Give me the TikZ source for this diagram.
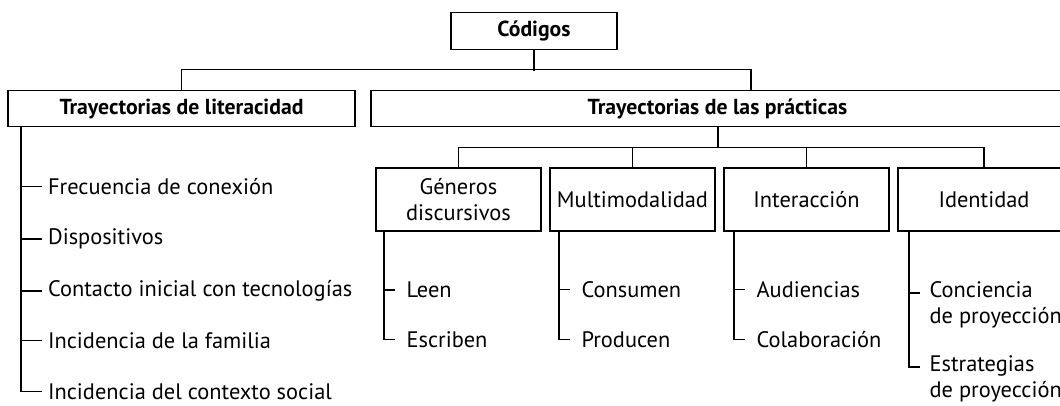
\documentclass[tikz,border=0pt]{standalone}
\usepackage{fontspec}
\setmainfont{PT Sans}
\begin{document}
\begin{tikzpicture}[x=0.75pt,y=-0.75pt,line width=0.9pt,
  every node/.style={font=\fontsize{16.8}{19.5}\selectfont},
  box/.style={draw,inner sep=0pt,minimum height=47.25pt,minimum width=123.75pt,align=center},
  topbox/.style={draw,inner sep=0pt,minimum height=27.5pt,font=\fontsize{16.3}{19.5}\selectfont\bfseries},
  lab/.style={anchor=base west,inner sep=0pt,yshift=-0.35em},
  mlab/.style={anchor=base west,inner sep=0pt,yshift=-0.35em,align=left}]
\useasboundingbox (0,0) rectangle (1060,405);
\clip (0,0) rectangle (1060,405);
% top level
\node[topbox,minimum width=124.5pt] (cod) at (534,31) {Códigos};
\node[topbox,minimum width=260.25pt] (lit) at (181.5,108.5) {Trayectorias de literacidad};
\node[topbox,minimum width=519.75pt] (prac) at (717.5,108.5) {Trayectorias de las prácticas};
\coordinate (pj) at (751,90);
\coordinate (ps) at (718,127);
\draw (cod.south) -- ++(0,21);
\draw (lit.north) -- ++(0,-20) -| (pj);
% second level
\node[box] (gen) at (458.5,199.5) {Géneros\\discursivos};
\node[box] (mul) at (632.5,199.5) {Multimodalidad};
\node[box] (int) at (806.5,199.5) {Interacción};
\node[box,minimum width=129pt] (ide) at (984,199.5) {Identidad};
\draw (ps) -- ++(0,21);
\draw (gen.north) -- ++(0,-20) -| (ide.north);
\draw (mul.north) -- ++(0,-20);
\draw (int.north) -- ++(0,-20);
% literacidad items
\coordinate (lt) at (21,127);
\node[lab] (l1) at (47.5,190) {Frecuencia de conexión};
\node[lab] (l2) at (47.5,240) {Dispositivos};
\node[lab] (l3) at (47.5,292) {Contacto inicial con tecnologías};
\node[lab] (l4) at (47.5,344) {Incidencia de la familia};
\node[lab] (l5) at (47.5,395) {Incidencia del contexto social};
\draw (lt) |- ([xshift=-4.5pt]l5.west);
\foreach \n in {l1,l2,l3,l4} \draw (lt |- \n.west) -- ([xshift=-4.5pt]\n.west);
% géneros
\coordinate (gt) at (384,231);
\node[lab] (g1) at (406,293) {Leen};
\node[lab] (g2) at (406,343) {Escriben};
\draw (gt) |- ([xshift=-8.25pt]g2.west);
\draw (gt |- g1.west) -- ([xshift=-8.25pt]g1.west);
% multimodalidad
\coordinate (mt) at (559,231);
\node[lab] (m1) at (581,293) {Consumen};
\node[lab] (m2) at (581,343) {Producen};
\draw (mt) |- ([xshift=-8.25pt]m2.west);
\draw (mt |- m1.west) -- ([xshift=-8.25pt]m1.west);
% interacción
\coordinate (it) at (734,231);
\node[lab] (i1) at (756,293) {Audiencias};
\node[lab] (i2) at (756,343) {Colaboración};
\draw (it) |- ([xshift=-8.25pt]i2.west);
\draw (it |- i1.west) -- ([xshift=-8.25pt]i1.west);
% identidad
\coordinate (dt) at (909,231);
\node[mlab] (d1) at (929,319) {Conciencia\\de proyección};
\node[mlab] (d2) at (929,393) {Estrategias\\de proyección};
\coordinate (d1t) at (920,293);
\coordinate (d2t) at (920,367);
\draw (dt) |- (d2t);
\draw (dt |- d1t) -- (d1t);
\end{tikzpicture}
\end{document}
